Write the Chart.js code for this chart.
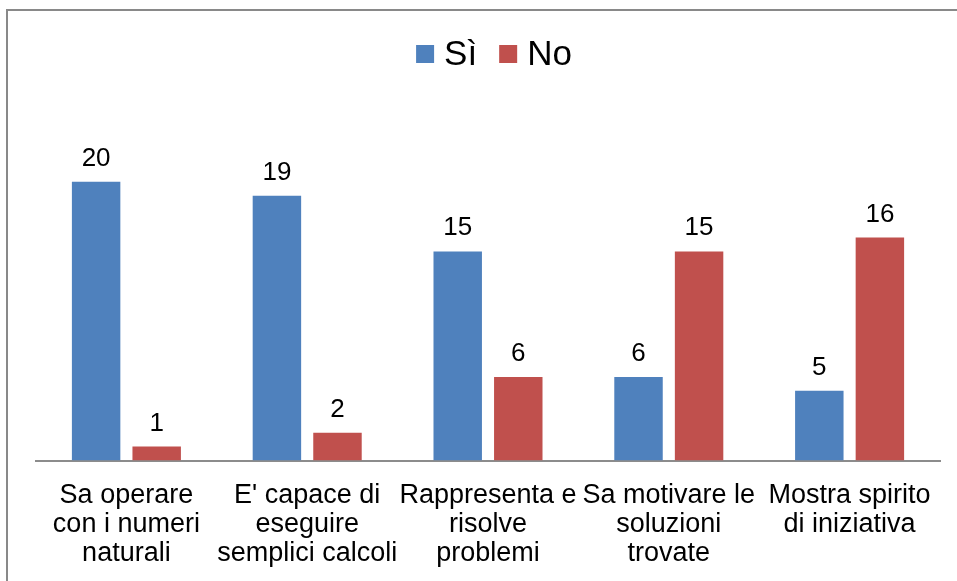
<!DOCTYPE html>
<html>
<head>
<meta charset="utf-8">
<title>Sì / No</title>
<script src="https://cdn.jsdelivr.net/npm/chart.js@4/dist/chart.umd.min.js"></script>
<style>
    body { margin: 0; background: #fff; }
    #frame {
        position: absolute;
        left: 6px;
        top: 9px;
        width: 960px;
        height: 600px;
        border-top: 2px solid #898989;
        border-left: 2px solid #898989;
    }
    #wrap { position: absolute; left: 0; top: 0; width: 957px; height: 581px; }
</style>
</head>
<body>
<div id="frame"></div>
<div id="wrap"><canvas id="myChart"></canvas></div>
<script>
// Data
const categories = [
    ['Sa operare', 'con i numeri', 'naturali'],
    ["E' capace di", 'eseguire', 'semplici calcoli'],
    ['Rappresenta e', 'risolve', 'problemi'],
    ['Sa motivare le', 'soluzioni', 'trovate'],
    ['Mostra spirito', 'di iniziativa']
];
const seriesNames = ['Sì', 'No'];
const siValues = [20, 19, 15, 6, 5];
const noValues = [1, 2, 6, 15, 16];
const seriesColors = ['#4F81BD', '#C0504D'];

const FONT = "'Liberation Sans', Arial, sans-serif";

// value labels above bars
const valueLabels = {
    id: 'valueLabels',
    afterDatasetsDraw(chart) {
        const ctx = chart.ctx;
        ctx.save();
        ctx.font = '26px ' + FONT;
        ctx.fillStyle = '#000';
        ctx.textAlign = 'center';
        ctx.textBaseline = 'alphabetic';
        chart.data.datasets.forEach((ds, i) => {
            chart.getDatasetMeta(i).data.forEach((bar, j) => {
                ctx.fillText(ds.data[j], bar.x, bar.y - 16);
            });
        });
        ctx.restore();
    }
};

// legend drawn by hand: Excel puts the text closer to the box than Chart.js does
const topLegend = {
    id: 'topLegend',
    afterDraw(chart) {
        const ctx = chart.ctx;
        const box = 18, gap = 10, itemGap = 22;
        ctx.save();
        ctx.font = '35px ' + FONT;
        const items = chart.data.datasets.map(ds => ({
            text: ds.label,
            color: ds.backgroundColor,
            w: ctx.measureText(ds.label).width
        }));
        let total = 0;
        items.forEach((it, i) => { total += box + gap + it.w + (i ? itemGap : 0); });
        let x = (chart.chartArea.left + chart.chartArea.right) / 2 + 6 - total / 2;
        const y = 55;
        ctx.textBaseline = 'middle';
        ctx.textAlign = 'left';
        items.forEach(it => {
            ctx.fillStyle = it.color;
            ctx.fillRect(x, y - 10, box, box);
            ctx.fillStyle = '#000';
            ctx.fillText(it.text, x + box + gap, y);
            x += box + gap + it.w + itemGap;
        });
        ctx.restore();
    }
};

const ctx = document.getElementById('myChart').getContext('2d');
const myChart = new Chart(ctx, {
    type: 'bar',
    data: {
        labels: categories,
        datasets: [{
            label: seriesNames[0],
            data: siValues,
            backgroundColor: seriesColors[0]
        }, {
            label: seriesNames[1],
            data: noValues,
            backgroundColor: seriesColors[1]
        }]
    },
    options: {
        responsive: true,
        maintainAspectRatio: false,
        animation: false,
        categoryPercentage: 0.67,
        barPercentage: 0.8,
        layout: {
            padding: { top: 126, left: 36, right: 17, bottom: 0 }
        },
        plugins: {
            legend: { display: false },
            tooltip: { enabled: false }
        },
        scales: {
            x: {
                grid: { display: false, drawTicks: false },
                border: { display: true, color: '#8c8c8c', width: 2 },
                ticks: {
                    color: '#000',
                    font: { family: FONT, size: 27, lineHeight: 1.08 },
                    padding: 20,
                    autoSkip: false,
                    maxRotation: 0,
                    minRotation: 0
                },
                afterFit(scale) {
                    scale.height -= 7;
                }
            },
            y: {
                display: false,
                min: 0,
                max: 24
            }
        }
    },
    plugins: [valueLabels, topLegend]
});
</script>
</body>
</html>
